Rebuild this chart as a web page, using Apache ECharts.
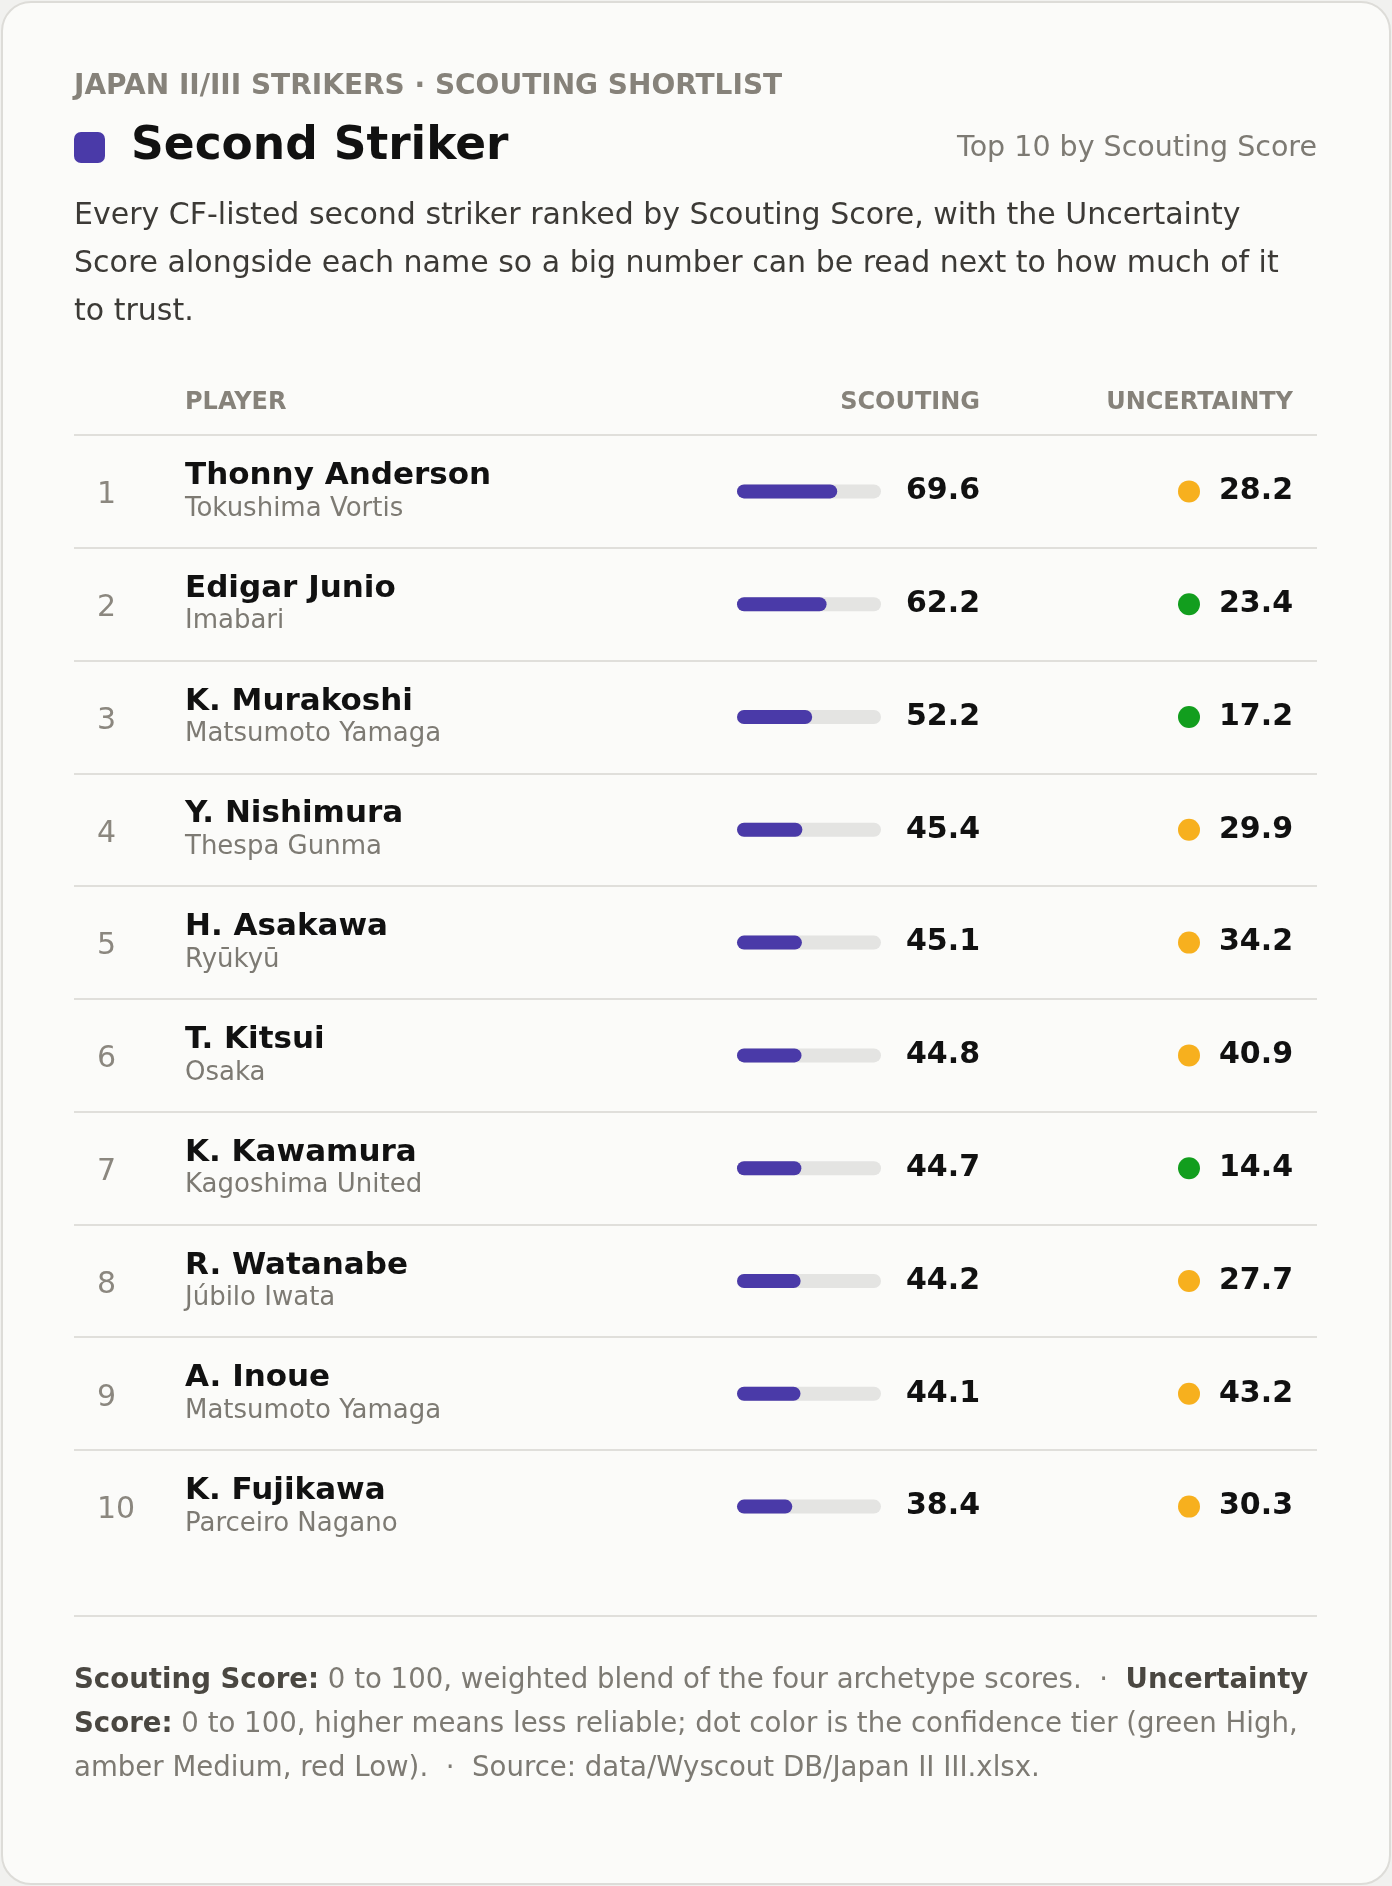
<!DOCTYPE html>
<html>
<head>
<meta charset="utf-8">
<script src="https://cdn.jsdelivr.net/npm/echarts@6/dist/echarts.min.js"></script>
<style>
  html, body { margin: 0; padding: 0; background: #f1f1ef; }
  #card {
    position: absolute; left: 1px; top: 1px; width: 1386px; height: 1880px;
    background: #fbfbf9; border: 2px solid #dddcd8; border-radius: 30px;
  }
  #chart { position: absolute; left: 0; top: 0; width: 1392px; height: 1886px; }
</style>
</head>
<body>
<div id="card"></div>
<div id="chart"></div>
<script>
// shortlist data
const ranks = [1, 2, 3, 4, 5, 6, 7, 8, 9, 10];
const players = ['Thonny Anderson', 'Edigar Junio', 'K. Murakoshi', 'Y. Nishimura', 'H. Asakawa',
  'T. Kitsui', 'K. Kawamura', 'R. Watanabe', 'A. Inoue', 'K. Fujikawa'];
const clubs = ['Tokushima Vortis', 'Imabari', 'Matsumoto Yamaga', 'Thespa Gunma', 'Ryūkyū',
  'Osaka', 'Kagoshima United', 'Júbilo Iwata', 'Matsumoto Yamaga', 'Parceiro Nagano'];
const scouting = [69.6, 62.2, 52.2, 45.4, 45.1, 44.8, 44.7, 44.2, 44.1, 38.4];
const uncertainty = [28.2, 23.4, 17.2, 29.9, 34.2, 40.9, 14.4, 27.7, 43.2, 30.3];
const tiers = ['Medium', 'High', 'High', 'Medium', 'Medium', 'Medium', 'High', 'Medium', 'Medium', 'Medium'];

const tierColors = { High: '#129e1e', Medium: '#f7b01e', Low: '#d8402e' };
const FONT = 'DejaVu Sans';
const PURPLE = '#4a3aa8';
const RULE = '#e0dfdb';

const chart = echarts.init(document.getElementById('chart'), null, { renderer: 'canvas' });

const footer =
  '{b|Scouting Score:} 0 to 100, weighted blend of the four archetype scores.  ·  {b|Uncertainty}\n' +
  '{b|Score:} 0 to 100, higher means less reliable; dot color is the confidence tier (green High,\n' +
  'amber Medium, red Low).  ·  Source: data/Wyscout DB/Japan II III.xlsx.';

const option = {
  animation: false,
  textStyle: { fontFamily: FONT },
  grid: [
    { left: 74, top: 435, width: 1243, height: 1015, outerBoundsMode: 'none' },   // row rules
    { left: 737, top: 435, width: 144, height: 1128, outerBoundsMode: 'none' },   // scouting bars
    { left: 1178, top: 435, width: 22, height: 1128, outerBoundsMode: 'none' }    // uncertainty dots
  ],
  xAxis: [
    { gridIndex: 0, type: 'value', min: 0, max: 1, show: false },
    { gridIndex: 1, type: 'value', min: 0, max: 100, show: false },
    { gridIndex: 2, type: 'category', data: ['Uncertainty'], show: false }
  ],
  yAxis: [
    {
      gridIndex: 0, type: 'value', min: 0, max: 9, interval: 1, inverse: true,
      axisLine: { show: false }, axisTick: { show: false }, axisLabel: { show: false },
      splitLine: { show: true, lineStyle: { color: RULE, width: 2 } }
    },
    {
      gridIndex: 1, type: 'category', data: players, inverse: true, position: 'left',
      axisLine: { show: false }, axisTick: { show: false }, splitLine: { show: false },
      axisLabel: {
        interval: 0, margin: 640, align: 'left',
        formatter: (v, i) => '{r|' + ranks[i] + '}',
        rich: {
          r: { fontFamily: FONT, fontSize: 30, color: '#8b877f', lineHeight: 36, padding: [8, 0, 0, 0] }
        }
      }
    },
    {
      gridIndex: 1, type: 'category', data: players, inverse: true, position: 'left', offset: 0,
      axisLine: { show: false }, axisTick: { show: false }, splitLine: { show: false },
      axisLabel: {
        interval: 0, margin: 552, align: 'left',
        formatter: (v, i) => '{n|' + v + '}\n{c|' + clubs[i] + '}',
        rich: {
          n: { fontFamily: FONT, fontSize: 31, fontWeight: 'bold', color: '#111111', lineHeight: 35, padding: [9, 0, 0, 0] },
          c: { fontFamily: FONT, fontSize: 26, color: '#7d7a73', lineHeight: 40 }
        }
      }
    },
    { gridIndex: 2, type: 'category', data: players, inverse: true, show: false }
  ],
  series: [
    {
      type: 'bar',
      xAxisIndex: 1, yAxisIndex: 1,
      data: scouting,
      barWidth: 14,
      silent: true,
      showBackground: true,
      backgroundStyle: { color: '#e4e4e2', borderRadius: 7 },
      itemStyle: { color: PURPLE, borderRadius: 7 },
      label: {
        show: true, position: [243, '50%'], align: 'right', verticalAlign: 'middle',
        fontFamily: FONT, fontSize: 30, fontWeight: 'bold', color: '#111111',
        formatter: p => scouting[p.dataIndex].toFixed(1)
      }
    },
    {
      type: 'scatter',
      xAxisIndex: 2, yAxisIndex: 3,
      symbol: 'circle', symbolSize: 22,
      silent: true,
      itemStyle: { opacity: 1 },
      data: players.map((p, i) => ({
        value: ['Uncertainty', p],
        itemStyle: { color: tierColors[tiers[i]], opacity: 1 }
      })),
      label: {
        show: true, position: [115, '50%'], align: 'right', verticalAlign: 'middle',
        fontFamily: FONT, fontSize: 30, fontWeight: 'bold', color: '#111111', opacity: 1,
        formatter: p => uncertainty[p.dataIndex].toFixed(1)
      }
    }
  ],
  graphic: [
    {
      type: 'text', x: 74, y: 87,
      style: { text: 'JAPAN II/III STRIKERS · SCOUTING SHORTLIST', font: 'bold 28px "DejaVu Sans"',
        fill: '#86827a', align: 'left', verticalAlign: 'middle' }
    },
    {
      type: 'rect', shape: { x: 74, y: 132, width: 31, height: 31, r: 7 },
      style: { fill: PURPLE }
    },
    {
      type: 'text', x: 131, y: 147,
      style: { text: 'Second Striker', font: 'bold 45.5px "DejaVu Sans"', fill: '#111111',
        align: 'left', verticalAlign: 'middle' }
    },
    {
      type: 'text', x: 1317, y: 148.5,
      style: { text: 'Top 10 by Scouting Score', font: '28.5px "DejaVu Sans"', fill: '#7d7a73',
        align: 'right', verticalAlign: 'middle' }
    },
    {
      type: 'text', x: 74, y: 192,
      style: {
        text: 'Every CF-listed second striker ranked by Scouting Score, with the Uncertainty\n' +
          'Score alongside each name so a big number can be read next to how much of it\n' +
          'to trust.',
        font: '30px "DejaVu Sans"', lineHeight: 48, fill: '#3c3a36',
        align: 'left', verticalAlign: 'top'
      }
    },
    {
      type: 'text', x: 185, y: 402.5,
      style: { text: 'PLAYER', font: 'bold 24px "DejaVu Sans"', fill: '#86827a',
        align: 'left', verticalAlign: 'middle' }
    },
    {
      type: 'text', x: 980, y: 402.5,
      style: { text: 'SCOUTING', font: 'bold 24px "DejaVu Sans"', fill: '#86827a',
        align: 'right', verticalAlign: 'middle' }
    },
    {
      type: 'text', x: 1293, y: 402.5,
      style: { text: 'UNCERTAINTY', font: 'bold 24px "DejaVu Sans"', fill: '#86827a',
        align: 'right', verticalAlign: 'middle' }
    },
    {
      type: 'line', shape: { x1: 74, y1: 1616, x2: 1317, y2: 1616 },
      style: { stroke: RULE, lineWidth: 2 }
    },
    {
      type: 'text', x: 74, y: 1658.5,
      style: {
        text: footer,
        fontFamily: FONT, fontSize: 27.6, lineHeight: 44.3, fill: '#7d7a73',
        align: 'left', verticalAlign: 'top',
        rich: {
          b: { fontFamily: FONT, fontSize: 27.6, fontWeight: 'bold', fill: '#4a4741', lineHeight: 44.3 }
        }
      }
    }
  ]
};

chart.setOption(option);
</script>
</body>
</html>
